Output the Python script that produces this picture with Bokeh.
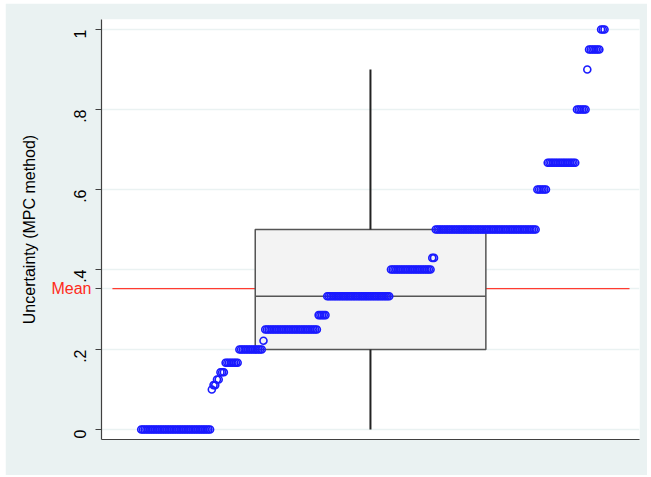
import math
import numpy as np
from bokeh.plotting import figure
from bokeh.models import Range1d, FixedTicker, LinearAxis, ColumnDataSource
from bokeh.embed import file_html
from bokeh.resources import INLINE

# ---- data ----
levels = [0.0, 0.1, 0.111, 0.125, 0.143, 0.167, 0.2, 0.222, 0.25, 0.286,
          0.333, 0.4, 0.429, 0.5, 0.6, 0.667, 0.8, 0.9, 0.95, 1.0]
counts = [41, 1, 2, 2, 3, 8, 14, 1, 31, 5,
          37, 24, 2, 59, 6, 17, 6, 1, 7, 3]
box_q1 = 0.2
box_median = 0.333
box_q3 = 0.5
whisker_low = 0.0
whisker_high = 0.9
mean_value = 0.352
y_ticks = [0, 0.2, 0.4, 0.6, 0.8, 1.0]
y_tick_labels = ["0", ".2", ".4", ".6", ".8", "1"]
y_title = "Uncertainty (MPC method)"
mean_text = "Mean"

# sorted observations plotted against their rank
vals = np.repeat(levels, counts)
rank = np.arange(1, len(vals) + 1)
src = ColumnDataSource(dict(x=rank, y=vals))

# ---- layout constants ----
X0, X1 = -22.05, 290.3
BOX_L, BOX_R, BOX_C = 67.2, 201.1, 134.1
MEAN_X0, MEAN_X1 = -15.7, 284.5

FONT = "Liberation Sans"
BG = "#eaf2f2"
AX = "#404040"

p = figure(width=642, height=472, output_backend="svg", toolbar_location=None,
           x_range=Range1d(X0, X1), y_range=Range1d(-0.025, 1.025),
           min_border_left=96, min_border_right=8, min_border_top=16,
           min_border_bottom=36, margin=(3, 0, 0, 5))
p.border_fill_color = BG
p.background_fill_color = "white"
p.outline_line_color = None

# x axis: line only
p.xaxis.ticker = FixedTicker(ticks=[])
p.xaxis.major_tick_line_color = None
p.xaxis.minor_tick_line_color = None
p.xaxis.major_label_text_color = None
p.xaxis.axis_line_color = AX
p.xaxis.axis_line_width = 1.2
p.xgrid.visible = False

all_ticks = y_ticks + [mean_value]

# inner y axis: axis line, tick marks and the horizontal "Mean" label
ya = p.yaxis[0]
ya.ticker = FixedTicker(ticks=all_ticks)
ov = {t: "" for t in y_ticks}
ov[mean_value] = mean_text
ya.major_label_overrides = ov
ya.major_label_orientation = "horizontal"
ya.major_label_text_font = FONT
ya.major_label_text_font_size = "16px"
ya.major_label_text_color = "#ff2a1a"
ya.major_label_standoff = 4
ya.major_tick_out = 6
ya.major_tick_in = 0
ya.major_tick_line_color = AX
ya.minor_tick_line_color = None
ya.axis_line_color = AX
ya.axis_line_width = 1.2

# outer y axis: rotated numeric labels and title, pulled back towards the frame
yb = LinearAxis(ticker=FixedTicker(ticks=y_ticks))
yb.major_label_overrides = {t: l for t, l in zip(y_ticks, y_tick_labels)}
yb.major_label_orientation = math.pi / 2
yb.major_label_text_font = FONT
yb.major_label_text_font_size = "16px"
yb.major_label_text_color = "black"
yb.major_label_standoff = -31
yb.major_tick_out = 0
yb.major_tick_in = 0
yb.major_tick_line_color = None
yb.minor_tick_line_color = None
yb.axis_line_color = None
yb.axis_label = y_title
yb.axis_label_text_font = FONT
yb.axis_label_text_font_size = "16px"
yb.axis_label_text_font_style = "normal"
yb.axis_label_text_color = "black"
yb.axis_label_standoff = 27
p.add_layout(yb, "left")

p.ygrid.ticker = FixedTicker(ticks=all_ticks)
p.ygrid.grid_line_color = BG
p.ygrid.grid_line_width = 1.5

# mean line (behind the box)
p.segment(x0=[MEAN_X0], y0=[mean_value], x1=[MEAN_X1], y1=[mean_value],
          line_color="#ff3b30", line_width=1.3)

# box
p.quad(left=[BOX_L], right=[BOX_R], bottom=[box_q1], top=[box_q3],
       fill_color="#f3f3f3", line_color="#555555", line_width=1.5)
p.segment(x0=[BOX_L], y0=[box_median], x1=[BOX_R], y1=[box_median],
          line_color="#555555", line_width=1.5)
p.segment(x0=[BOX_C, BOX_C], y0=[box_q3, box_q1], x1=[BOX_C, BOX_C],
          y1=[whisker_high, whisker_low], line_color="#222222", line_width=2)

# observations
p.scatter("x", "y", source=src, size=7, marker="circle", fill_color=None,
          line_color="#1a1aff", line_width=1.6)

open("out.html", "w").write(file_html(p, INLINE))
